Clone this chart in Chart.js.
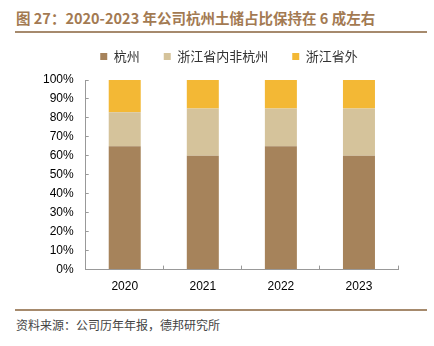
<!DOCTYPE html>
<html>
<head>
<meta charset="utf-8">
<script src="https://cdn.jsdelivr.net/npm/chart.js@4"></script>
<style>
  body { margin: 0; width: 434px; height: 346px; background: #fff; position: relative; overflow: hidden; }
  #title { position: absolute; left: 16px; top: 7px; font: bold 14.5px "Noto Sans CJK SC", sans-serif; color: #a37a52; white-space: nowrap; }
  .rule { position: absolute; left: 15px; width: 412px; height: 2px; background: #a68a6d; }
  #source { position: absolute; left: 16px; top: 316px; font: 12px "Noto Sans CJK SC", sans-serif; color: #444; white-space: nowrap; }
  #wrap { position: absolute; left: 0; top: 26px; width: 434px; height: 282px; }
</style>
</head>
<body>
<div id="title">图 27：2020-2023 年公司杭州土储占比保持在 6 成左右</div>
<div class="rule" style="top:31px"></div>
<div id="wrap"><canvas id="barChart" width="434" height="282"></canvas></div>
<div class="rule" style="top:309px"></div>
<div id="source">资料来源：公司历年年报，德邦研究所</div>
<script>
var years = ["2020", "2021", "2022", "2023"];
var hangzhou = [65, 60, 65, 60];
var inProvince = [18, 25, 20, 25];
var outProvince = [17, 15, 15, 15];

var barData = {
    labels: years,
    datasets: [
        { label: "杭州", data: hangzhou, backgroundColor: "#a6835b" },
        { label: "浙江省内非杭州", data: inProvince, backgroundColor: "#d5c39b" },
        { label: "浙江省外", data: outProvince, backgroundColor: "#f3b835" }
    ]
};

// extra space under the legend, and nudge it right
var legendGap = {
    id: 'legendGap',
    beforeInit: function(chart) {
        var fit = chart.legend.fit;
        chart.legend.fit = function() {
            fit.call(this);
            this.height += 7;
        };
    },
    afterLayout: function(chart) {
        chart.legend.left += 16;
        chart.legend.right += 16;
    }
};

var barOptions = {
    responsive: false,
    animation: false,
    categoryPercentage: 1,
    barPercentage: 0.41,
    layout: { padding: { left: 28, right: 36, top: 0, bottom: 0 } },
    plugins: {
        legend: {
            labels: {
                boxWidth: 7, boxHeight: 7, padding: 24,
                color: "#333",
                font: { family: "Noto Sans CJK SC", size: 13 }
            }
        },
        tooltip: { enabled: false }
    },
    scales: {
        x: {
            stacked: true,
            grid: { offset: true, drawOnChartArea: false, tickLength: -4, color: "#999" },
            border: { color: "#999" },
            ticks: { color: "#000", font: { family: "Liberation Sans", size: 12 }, padding: 14 }
        },
        y: {
            stacked: true,
            min: 0, max: 100,
            grid: { drawOnChartArea: false, tickLength: -3, color: "#999" },
            border: { color: "#999" },
            ticks: {
                stepSize: 10,
                color: "#000",
                font: { family: "Liberation Sans", size: 12 },
                padding: 15,
                callback: function(v) { return v + "%"; }
            }
        }
    }
};

var ctx = document.getElementById("barChart").getContext("2d");
new Chart(ctx, { type: 'bar', data: barData, options: barOptions, plugins: [legendGap] });
</script>
</body>
</html>
